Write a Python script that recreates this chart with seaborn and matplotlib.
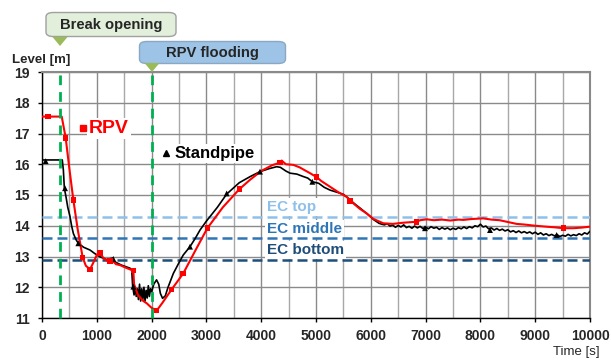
import numpy as np
import pandas as pd
import seaborn as sns
import matplotlib.pyplot as plt
from matplotlib.patches import FancyBboxPatch, Polygon
from matplotlib.lines import Line2D

# ---------------- data ----------------
rpv_t = [0, 360, 432, 500, 572, 650, 742, 800, 876, 950, 1000, 1058, 1120, 1200, 1272, 1350, 1423,
         1550, 1667, 1680, 1750, 1850, 1910, 2000, 2093, 2200, 2366, 2578, 2800, 3017, 3300, 3601,
         3800, 4000, 4200, 4343, 4373, 4450, 4586, 4700, 4800, 4891, 5012, 5100, 5255, 5400, 5560,
         5620, 5700, 5800, 5925, 6050, 6228, 6400, 6600, 6837, 6900, 7020, 7150, 7300, 7450, 7600,
         7688, 7850, 8053, 8200, 8350, 8480, 8662, 8800, 9000, 9200, 9350, 9513, 9700, 9850, 10000]
rpv_v = [17.55, 17.55, 16.86, 15.85, 14.84, 13.90, 12.97, 12.70, 12.58, 12.85, 13.05, 13.12, 12.95,
         12.85, 12.89, 12.75, 12.72, 12.62, 12.54, 12.10, 11.75, 11.55, 11.48, 11.33, 11.24, 11.50,
         11.93, 12.45, 13.20, 13.92, 14.60, 15.19, 15.50, 15.78, 15.97, 16.05, 16.12, 16.00, 15.98,
         15.90, 15.80, 15.71, 15.58, 15.45, 15.27, 15.10, 14.94, 14.82, 14.70, 14.55, 14.40, 14.22,
         14.08, 14.06, 14.10, 14.13, 14.18, 14.21, 14.18, 14.20, 14.17, 14.20, 14.19, 14.22, 14.24,
         14.20, 14.18, 14.13, 14.06, 14.04, 14.00, 13.97, 13.95, 13.92, 13.92, 13.94, 13.97]
rpv_mark_t = [110, 432, 572, 742, 876, 1058, 1241, 1667, 2093, 2366, 2578, 3017, 3601, 4343, 5012,
              5620, 6837, 9513]
rpv_mark_v = [17.55, 16.86, 14.84, 12.97, 12.58, 13.12, 12.85, 12.54, 11.24, 11.93, 12.45, 13.92,
              15.19, 16.05, 15.58, 14.80, 14.13, 13.92]

sp_t = [0, 370, 390, 408, 438, 470, 511, 540, 572, 620, 663, 760, 876, 960, 1058, 1180, 1290, 1302,
        1450, 1606, 1637, 1655, 1680, 1700, 1720, 1740, 1760, 1780, 1800, 1820, 1840, 1860, 1880,
        1900, 1920, 1940, 1960, 1980, 2000, 2040, 2090, 2130, 2160, 2200, 2250, 2300, 2397, 2500,
        2578, 2701, 2800, 2883, 3000, 3200, 3370, 3600, 3800, 3978, 4150, 4282, 4350, 4450, 4526,
        4650, 4768, 4850, 4933, 5050, 5150, 5255, 5400, 5500, 5600, 5700, 5800, 5925, 6050, 6150,
        6200, 6250, 6300, 6350, 6400, 6450, 6500, 6550, 6600, 6650, 6700, 6750, 6800, 6850, 6900,
        6950, 7000, 7050, 7100, 7150, 7200, 7250, 7300, 7350, 7400, 7450, 7500, 7550, 7600, 7650,
        7700, 7750, 7800, 7850, 7900, 7950, 8000, 8050, 8100, 8150, 8200, 8250, 8300, 8350, 8400,
        8450, 8500, 8550, 8600, 8650, 8700, 8750, 8800, 8850, 8900, 8950, 9000, 9050, 9100, 9150,
        9200, 9250, 9300, 9350, 9400, 9450, 9500, 9550, 9600, 9650, 9700, 9750, 9800, 9850, 9900,
        9950, 10000]
sp_v = [16.14, 16.14, 15.81, 15.22, 14.94, 14.60, 14.30, 14.00, 13.75, 13.55, 13.43, 13.30, 13.21,
        13.10, 12.99, 12.90, 12.95, 12.85, 12.72, 12.62, 12.56, 12.02, 11.75, 12.00, 11.70, 11.95,
        11.60, 12.10, 11.55, 11.95, 11.60, 12.00, 11.55, 11.90, 11.65, 12.05, 11.70, 11.95, 11.85,
        12.10, 12.24, 12.10, 11.80, 11.64, 11.72, 12.00, 12.45, 12.80, 13.05, 13.32, 13.60, 13.86,
        14.15, 14.60, 15.03, 15.40, 15.60, 15.76, 15.86, 15.92, 15.90, 15.78, 15.71, 15.68, 15.60,
        15.55, 15.43, 15.38, 15.25, 15.16, 15.08, 15.02, 14.88, 14.72, 14.58, 14.40, 14.20, 14.08,
        14.05, 14.03, 14.07, 13.99, 14.02, 13.95, 14.01, 13.96, 14.03, 13.94, 13.98, 13.92, 13.99,
        13.93, 13.98, 13.91, 13.96, 13.90, 13.97, 13.92, 13.95, 13.88, 13.94, 13.89, 13.93, 13.87,
        13.92, 13.88, 13.94, 13.90, 13.96, 13.91, 13.97, 13.93, 14.00, 13.97, 14.05, 13.96, 13.99,
        13.90, 13.93, 13.86, 13.91, 13.85, 13.89, 13.83, 13.87, 13.80, 13.84, 13.78, 13.83, 13.77,
        13.81, 13.76, 13.80, 13.74, 13.79, 13.72, 13.77, 13.70, 13.74, 13.68, 13.72, 13.67, 13.71,
        13.65, 13.69, 13.66, 13.72, 13.67, 13.71, 13.68, 13.74, 13.70, 13.77, 13.73, 13.82]
sp_mark_t = [67, 420, 663, 1302, 1667, 2701, 3370, 3978, 4933, 6989, 8175, 9392]
sp_mark_v = [16.10, 15.22, 13.43, 12.92, 12.02, 13.32, 15.05, 15.76, 15.43, 13.92, 13.86, 13.70]

ec_levels = [14.3, 13.6, 12.9]
ec_labels = ["EC top", "EC middle", "EC bottom"]
ec_colors = ["#8EC0EA", "#2E75B6", "#1F4E79"]
ec_label_y = [14.62, 13.88, 13.21]

events_t = [330, 2000]
events_labels = ["Break opening", "RPV flooding"]

x_ticks = list(range(0, 10001, 1000))
y_ticks = list(range(11, 20))

# ---------------- figure ----------------
sns.set_theme(style="white")
plt.rcParams['font.family'] = ['Liberation Sans', 'DejaVu Sans']

W, H = 611, 362
fig = plt.figure(figsize=(W / 100, H / 100), dpi=100)
ax = fig.add_axes([42 / W, 1 - 318 / H, 548 / W, 246 / H])


def fx(px):
    return px / W


def fy(py):
    return 1 - py / H


ax.set_xlim(0, 10000)
ax.set_ylim(11, 19)
ax.set_xticks(x_ticks)
ax.set_xticks(list(range(500, 10000, 1000)), minor=True)
ax.set_yticks(y_ticks)
ax.set_axisbelow(True)
ax.grid(True, which='major', axis='both', color='#8a8a8a', lw=1.0, zorder=0)
ax.grid(True, which='minor', axis='x', color='#a8a8a8', lw=1.0, zorder=0)

for s in ['top', 'right']:
    ax.spines[s].set_color('#8a8a8a')
    ax.spines[s].set_linewidth(1.5)
for s in ['left', 'bottom']:
    ax.spines[s].set_color('black')
    ax.spines[s].set_linewidth(1.0)

ax.tick_params(axis='both', which='major', direction='out', length=3, width=1, color='black',
               labelsize=10, bottom=True, left=True)
ax.tick_params(axis='x', which='major', pad=5.0)
ax.tick_params(axis='y', which='major', pad=6.0)
ax.tick_params(axis='x', which='minor', length=0)
for lab in ax.get_xticklabels() + ax.get_yticklabels():
    lab.set_fontweight('bold')

# EC levels
for lvl, lab, col, ly in zip(ec_levels, ec_labels, ec_colors, ec_label_y):
    ax.axhline(lvl, color=col, lw=1.8, ls=(0, (4, 2)), zorder=3)
    ax.text(4106, ly, lab, color=col, fontsize=11, fontweight='bold', ha='left', va='center',
            zorder=2.5, bbox=dict(facecolor='white', edgecolor='none', pad=1.5))

# series
df_rpv = pd.DataFrame({'t': rpv_t, 'v': rpv_v})
df_sp = pd.DataFrame({'t': sp_t, 'v': sp_v})
df_rpv_m = pd.DataFrame({'t': rpv_mark_t, 'v': rpv_mark_v})
df_sp_m = pd.DataFrame({'t': sp_mark_t, 'v': sp_mark_v})

sns.lineplot(data=df_sp, x='t', y='v', color='black', lw=1.2, ax=ax, estimator=None, sort=False,
             zorder=4)
sns.lineplot(data=df_rpv, x='t', y='v', color='#FF0000', lw=1.5, ax=ax, estimator=None, sort=False,
             zorder=5)
sns.scatterplot(data=df_sp_m, x='t', y='v', marker='^', color='black', s=18, edgecolor='none', ax=ax,
                zorder=6)
sns.scatterplot(data=df_rpv_m, x='t', y='v', marker='s', color='#FF0000', s=16, edgecolor='none',
                ax=ax, zorder=6)

# event lines
for et in events_t:
    ax.axvline(et, color='#00B050', lw=2, ls=(0, (3.5, 2.5)), zorder=7, clip_on=False)

ax.set_xlabel('')
ax.set_ylabel('')

# series labels
ax.text(0.0858, 0.771, "RPV", transform=ax.transAxes, color='#FF0000', fontsize=14,
        fontweight='bold', va='center', ha='left', zorder=2.5,
        bbox=dict(facecolor='white', edgecolor='none', pad=1.5))
ax.text(0.2410, 0.6695, "Standpipe", transform=ax.transAxes, color='black', fontsize=12,
        fontweight='bold', va='center', ha='left', zorder=2.5,
        bbox=dict(facecolor='white', edgecolor='none', pad=1.5))
fig.add_artist(Line2D([fx(82.7)], [fy(128.3)], marker='s', color='#FF0000', markersize=4,
                      transform=fig.transFigure))
fig.add_artist(Line2D([fx(165.7)], [fy(152.5)], marker='^', color='black', markersize=4,
                      transform=fig.transFigure))

# axis titles
fig.text(fx(12), fy(60), "Level [m]", fontsize=9.5, fontweight='bold', ha='left', va='center')
fig.text(fx(600), fy(352), "Time [s]", fontsize=9.5, ha='right', va='center')

# event callouts
boxes = [(46, 12.5, 176, 36.5, '#E2EFDA', '#A0A0A0', 60, 37, 46),
         (139.5, 41.5, 285.5, 63.5, '#9DC3E6', '#8AA8C4', 152, 63, 72)]
for (x0, y0, x1, y1, fc, ec, tx, ty0, ty1), lab in zip(boxes, events_labels):
    p = FancyBboxPatch((fx(x0), fy(y1)), fx(x1) - fx(x0), fy(y0) - fy(y1),
                       boxstyle="round,pad=0,rounding_size=0.012", transform=fig.transFigure,
                       facecolor=fc, edgecolor=ec, lw=1.0)
    fig.add_artist(p)
    fig.text((fx(x0) + fx(x1)) / 2, (fy(y0) + fy(y1)) / 2, lab, fontsize=10.6, fontweight='bold',
             ha='center', va='center')
    tri = Polygon([(fx(tx - 7.5), fy(ty0)), (fx(tx + 7.5), fy(ty0)), (fx(tx), fy(ty1))],
                  closed=True, transform=fig.transFigure, facecolor='#9BBB59', edgecolor='none')
    fig.add_artist(tri)

fig.savefig("out.png", dpi=100)
